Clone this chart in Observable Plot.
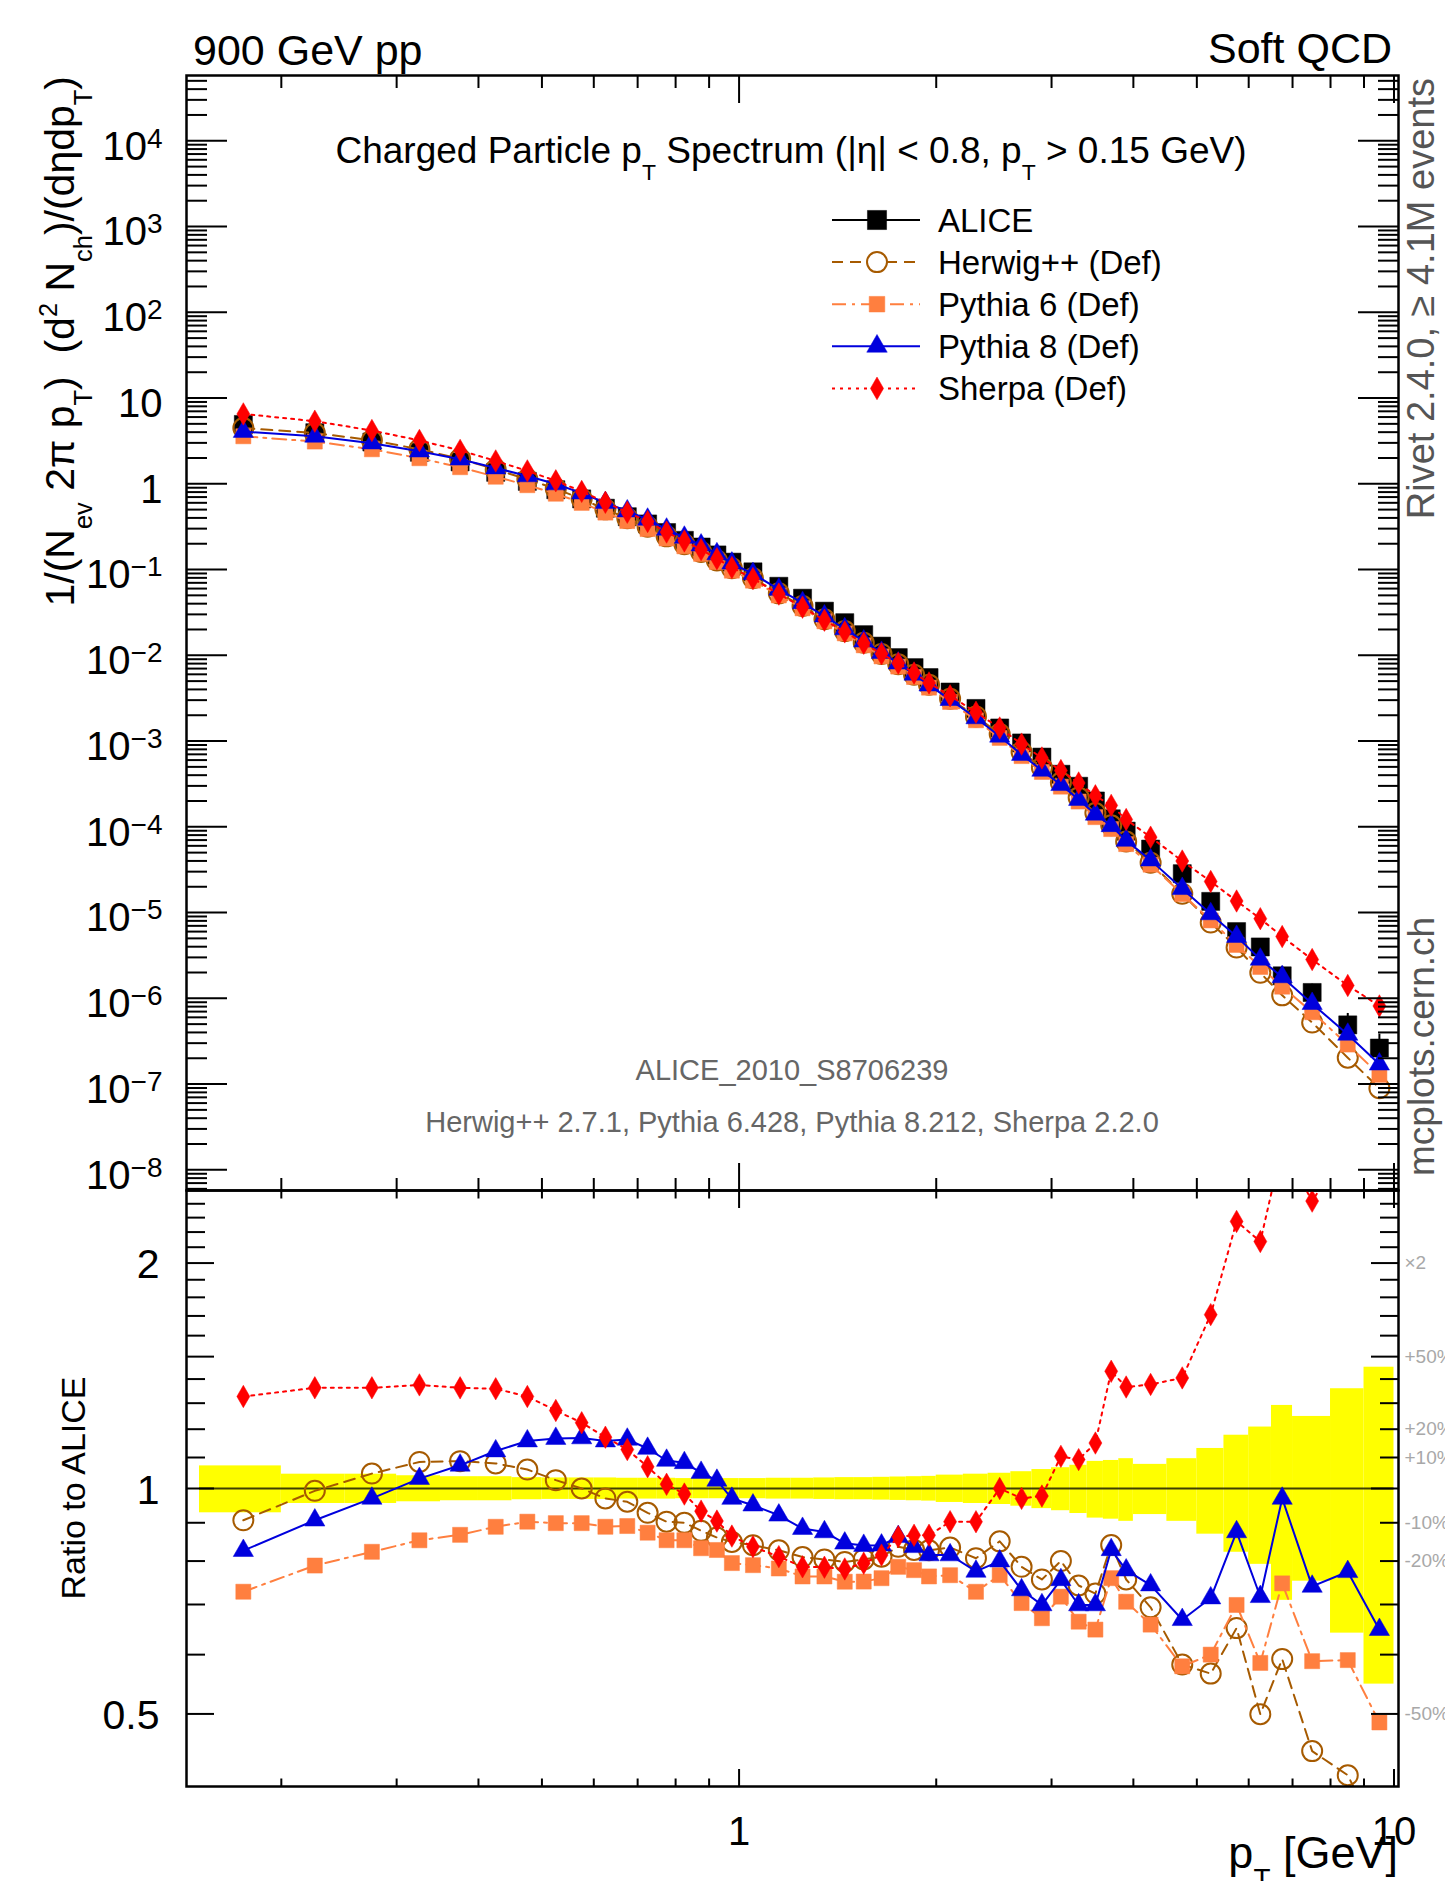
<!DOCTYPE html>
<html><head><meta charset="utf-8">
<script src="https://cdn.jsdelivr.net/npm/d3@7"></script>
<script src="https://cdn.jsdelivr.net/npm/@observablehq/plot@0.6"></script>
<style>
html,body{margin:0;padding:0;background:#fff;overflow:hidden;}
#wrap{position:relative;width:1445px;height:1881px;overflow:hidden;background:#fff;}
</style></head><body><div id="wrap"></div>
<script>
// ---------------- data ----------------
const pT = [0.175,0.225,0.275,0.325,0.375,0.425,0.475,0.525,0.575,0.625,0.675,0.725,0.775,0.825,0.875,0.925,0.975,1.05,1.15,1.25,1.35,1.45,1.55,1.65,1.75,1.85,1.95,2.1,2.3,2.5,2.7,2.9,3.1,3.3,3.5,3.7,3.9,4.25,4.75,5.25,5.75,6.25,6.75,7.5,8.5,9.5];
const binEdges = [0.15,0.2,0.25,0.3,0.35,0.4,0.45,0.5,0.55,0.6,0.65,0.7,0.75,0.8,0.85,0.9,0.95,1.0,1.1,1.2,1.3,1.4,1.5,1.6,1.7,1.8,1.9,2.0,2.2,2.4,2.6,2.8,3.0,3.2,3.4,3.6,3.8,4.0,4.5,5.0,5.5,6.0,6.5,7.0,8.0,9.0,10.0];
const alice = [4.92,3.94,3.07,2.33,1.80,1.36,1.066,0.852,0.666,0.519,0.413,0.340,0.270,0.219,0.183,0.148,0.122,0.094,0.0638,0.0463,0.0327,0.0240,0.0174,0.0128,0.0094,0.00718,0.0055,0.00373,0.0024,0.00142,0.00095,0.00065,0.00041,0.000297,0.0002,0.000124,8.9e-5,5.5e-5,2.84e-5,1.35e-5,6.0e-6,3.97e-6,1.83e-6,1.17e-6,4.9e-7,2.63e-7];
const aliceRelErr = [0.072,0.045,0.045,0.040,0.037,0.037,0.034,0.033,0.033,0.033,0.032,0.032,0.032,0.031,0.031,0.031,0.031,0.031,0.032,0.032,0.033,0.034,0.034,0.035,0.036,0.037,0.038,0.042,0.045,0.048,0.053,0.060,0.066,0.074,0.087,0.090,0.096,0.077,0.096,0.131,0.178,0.208,0.291,0.248,0.359,0.452];
const herwig = [4.462,3.912,3.214,2.528,1.958,1.469,1.130,0.8742,0.666,0.5034,0.3965,0.3155,0.2438,0.1971,0.1607,0.1273,0.1035,0.07896,0.05276,0.0375,0.02629,0.01915,0.01399,0.01038,0.007858,0.005945,0.004549,0.003111,0.001937,0.001207,0.0007467,0.0004914,0.000328,0.0002204,0.0001448,0.0001042,6.728e-5,3.817e-5,1.653e-5,7.641e-6,3.906e-6,1.983e-6,1.083e-6,5.218e-7,2.029e-7,8.94e-8];
const pythia6 = [3.582,3.109,2.527,1.987,1.561,1.209,0.9626,0.7659,0.5987,0.4614,0.368,0.2968,0.2303,0.1868,0.1523,0.1225,0.0970,0.07426,0.04989,0.03533,0.02495,0.01802,0.01307,0.009715,0.007388,0.005586,0.004197,0.002857,0.001747,0.001088,0.0006679,0.0004362,0.000294,0.0001972,0.0001296,9.412e-5,6.283e-5,3.619e-5,1.644e-5,8.1e-6,4.194e-6,2.322e-6,1.367e-6,6.88e-7,2.891e-7,1.281e-7];
const pythia8 = [4.064,3.574,2.978,2.402,1.933,1.526,1.2334,0.9934,0.7779,0.6005,0.4803,0.3845,0.2943,0.237,0.1922,0.1517,0.1183,0.0893,0.05876,0.04093,0.02861,0.02028,0.0146,0.01075,0.008103,0.006002,0.004483,0.00304,0.00186,0.001136,0.0006954,0.0004544,0.0003096,0.0002076,0.0001398,0.0001027,6.924e-5,4.087e-5,1.897e-5,9.639e-6,5.25e-6,2.846e-6,1.775e-6,8.658e-7,3.793e-7,1.704e-7];
const sherpa = [6.529,5.370,4.184,3.204,2.453,1.848,1.4146,1.0829,0.8152,0.6077,0.4655,0.3635,0.2735,0.2153,0.1707,0.1339,0.1054,0.07858,0.05174,0.03639,0.02567,0.01874,0.01383,0.01043,0.008103,0.006218,0.004763,0.003368,0.002167,0.00142,0.0009215,0.0006351,0.0004526,0.0003246,0.00023,0.0001778,0.0001216,7.574e-5,3.99e-5,2.304e-5,1.364e-5,8.484e-6,5.252e-6,2.831e-6,1.411e-6,8.153e-7];

const seriesNames = ["ALICE","Herwig++ (Def)","Pythia 6 (Def)","Pythia 8 (Def)","Sherpa (Def)"];

const xTickValues = [1, 10];
const xTickLabels = ["1", "10"];
const yTickValuesUpper = [1e4,1e3,1e2,1e1,1,1e-1,1e-2,1e-3,1e-4,1e-5,1e-6,1e-7,1e-8];
const yTickLabelsUpper = ["10^4","10^3","10^2","10","1","10^\u22121","10^\u22122","10^\u22123","10^\u22124","10^\u22125","10^\u22126","10^\u22127","10^\u22128"];
const yTickValuesRatio = [2, 1, 0.5];
const yTickLabelsRatio = ["2", "1", "0.5"];
const ratioRightValues = [2, 1.5, 1.2, 1.1, 0.9, 0.8, 0.5];
const ratioRightLabels = ["\u00d72", "+50%", "+20%", "+10%", "-10%", "-20%", "-50%"];

// ---------------- styles ----------------
const FONT = '"Liberation Sans", Arial, Helvetica, sans-serif';
const W = 1445;
const xDomain = [0.1433, 10.16];
const yDomainUpper = [5.74e-9, 5.77e4];
const yDomainRatio = [0.4, 2.5];
const MARGIN_L = 186, MARGIN_R = 47;
const UPPER_TOP = 75, SPLIT = 1190, RATIO_BOTTOM = 1786, H = 1881;

const styles = {
  alice:   {color: "#000000", symbol: "square",   r: 10.2, fill: "#000000", dash: null},
  herwig:  {color: "#a65a00", symbol: "circle",   r: 10,   fill: "none",    dash: "11,7"},
  pythia6: {color: "#ff7f3f", symbol: "square",   r: 8.5,  fill: "#ff7f3f", dash: "14,6,3,6"},
  pythia8: {color: "#0000dd", symbol: "triangle", r: 7.5,  fill: "#0000dd", dash: null},
  sherpa:  {color: "#ff0000", symbol: "diamond",  r: 6.8,  fill: "#ff0000", dash: "3,5"}
};
const modelKeys = ["herwig", "pythia6", "pythia8", "sherpa"];
const modelValues = {herwig, pythia6, pythia8, sherpa};

// ---------------- tables ----------------
const rows = pT.map((x, i) => ({x, lo: binEdges[i], hi: binEdges[i + 1], alice: alice[i], err: aliceRelErr[i]}));
const modelRows = {};
for (const k of modelKeys) {
  modelRows[k] = pT.map((x, i) => ({x, y: modelValues[k][i], ratio: modelValues[k][i] / alice[i]}));
}

// minor ticks
function logMinor(domain) {
  const out = [];
  for (let e = Math.floor(Math.log10(domain[0])); e <= Math.ceil(Math.log10(domain[1])); e++) {
    for (let m = 2; m <= 9; m++) {
      const v = m * Math.pow(10, e);
      if (v > domain[0] && v < domain[1]) out.push(v);
    }
  }
  return out;
}
const xMinor = logMinor(xDomain);
const yMinorUpper = logMinor(yDomainUpper);
const yMajorRatioTicks = [0.5, 1, 1.5, 2];
const yMinorRatioTicks = [0.6,0.7,0.8,0.9,1.1,1.2,1.3,1.4,1.6,1.7,1.8,1.9,2.1,2.2,2.3,2.4];

function yTicks(values, size) {
  return [
    Plot.axisY({ticks: values, anchor: "right", frameAnchor: "left", tickSize: size, fill: "none", strokeWidth: 2}),
    Plot.axisY({ticks: values, anchor: "left", frameAnchor: "right", tickSize: size, fill: "none", strokeWidth: 2})
  ];
}
function xTicks(values, sizeTop, sizeBottom) {
  return [
    Plot.axisX({ticks: values, anchor: "bottom", frameAnchor: "top", tickSize: sizeTop, fill: "none", strokeWidth: 2}),
    Plot.axisX({ticks: values, anchor: "top", frameAnchor: "bottom", tickSize: sizeBottom, fill: "none", strokeWidth: 2})
  ];
}
function seriesMarks(k, yField, clip) {
  const s = styles[k];
  return [
    Plot.line(modelRows[k], {x: "x", y: yField, stroke: s.color, strokeWidth: 2, strokeDasharray: s.dash, clip}),
    Plot.dot(modelRows[k], {x: "x", y: yField, symbol: s.symbol, r: s.r, fill: s.fill, stroke: s.color, strokeWidth: s.fill === "none" ? 2 : 0.5, clip})
  ];
}

const plotStyle = {background: "transparent", overflow: "visible", maxWidth: "none", fontFamily: FONT, color: "#000"};

// ---------------- upper panel ----------------
const upper = Plot.plot({
  width: W, height: SPLIT,
  marginTop: UPPER_TOP, marginBottom: 0, marginLeft: MARGIN_L, marginRight: MARGIN_R,
  x: {type: "log", domain: xDomain},
  y: {type: "log", domain: yDomainUpper},
  style: plotStyle,
  marks: [
    Plot.ruleX(rows, {x: "x", y1: d => d.alice * (1 - d.err), y2: d => d.alice * (1 + d.err), stroke: "#000", strokeWidth: 2}),
    Plot.dot(rows, {x: "x", y: "alice", symbol: styles.alice.symbol, r: styles.alice.r, fill: "#000", stroke: "#000", strokeWidth: 0.5}),
    ...modelKeys.flatMap(k => seriesMarks(k, "y", false)),
    ...yTicks(yTickValuesUpper, 40),
    ...yTicks(yMinorUpper, 20),
    ...xTicks(xTickValues, 28, 28),
    ...xTicks(xMinor, 13, 13),
    Plot.axisY({ticks: yTickValuesUpper, anchor: "left", tickSize: 0, tickPadding: 24, fontSize: 40, dy: 6, label: null,
      tickFormat: d => yTickLabelsUpper[yTickValuesUpper.indexOf(d)]}),
    Plot.frame({stroke: "#000", strokeWidth: 2.5})
  ]
});
upper.style.position = "absolute"; upper.style.left = "0px"; upper.style.top = "0px";

// superscripts in the tick labels
d3.select(upper).selectAll('g[aria-label="y-axis tick label"] text').each(function() {
  const s = this.textContent;
  const k = s.indexOf("^");
  if (k < 0) return;
  this.textContent = s.slice(0, k);
  d3.select(this).append("tspan").attr("dy", -12).attr("font-size", 28).text(s.slice(k + 1));
});

// ---------------- ratio panel ----------------
const ratio = Plot.plot({
  width: W, height: H - SPLIT,
  marginTop: 0, marginBottom: H - RATIO_BOTTOM, marginLeft: MARGIN_L, marginRight: MARGIN_R,
  x: {type: "log", domain: xDomain},
  y: {type: "log", domain: yDomainRatio},
  style: plotStyle,
  marks: [
    Plot.rect(rows, {x1: "lo", x2: "hi", y1: d => 1 - d.err, y2: d => 1 + d.err, fill: "#ffff00"}),
    Plot.ruleY([1], {x1: binEdges[0], x2: binEdges[binEdges.length - 1], stroke: "#000", strokeWidth: 2, strokeOpacity: 0.75}),
    ...modelKeys.flatMap(k => seriesMarks(k, "ratio", true)),
    ...yTicks(yMajorRatioTicks, 27),
    ...yTicks(yMinorRatioTicks, 18),
    ...xTicks(xTickValues, 18, 18),
    ...xTicks(xMinor, 8.5, 8.5),
    Plot.axisY({ticks: yTickValuesRatio, anchor: "left", tickSize: 0, tickPadding: 27, fontSize: 41, dy: 2, label: null,
      tickFormat: d => yTickLabelsRatio[yTickValuesRatio.indexOf(d)]}),
    Plot.axisY({ticks: ratioRightValues, anchor: "right", tickSize: 0, tickPadding: 6, fontSize: 19, fill: "#a8a8a8", label: null,
      tickFormat: d => ratioRightLabels[ratioRightValues.indexOf(d)]}),
    Plot.axisX({ticks: xTickValues, anchor: "bottom", tickSize: 0, tickPadding: 30, fontSize: 40, label: null,
      tickFormat: d => xTickLabels[xTickValues.indexOf(d)]}),
    Plot.frame({stroke: "#000", strokeWidth: 2.5})
  ]
});
ratio.style.position = "absolute"; ratio.style.left = "0px"; ratio.style.top = SPLIT + "px";

const wrap = document.getElementById("wrap");
wrap.append(upper);
wrap.append(ratio);

// ---------------- annotations, titles, legend ----------------
const ov = d3.select(wrap).append("svg")
  .attr("width", W).attr("height", H)
  .style("position", "absolute").style("left", "0px").style("top", "0px")
  .style("pointer-events", "none").style("font-family", FONT);

function rich(parts, {x, y, size, anchor = "start", fill = "#000", rotate = 0, sub = 0.45, sup = 0.42, small = 0.62}) {
  const t = ov.append("text")
    .attr("transform", `translate(${x},${y}) rotate(${rotate})`)
    .attr("font-size", size).attr("text-anchor", anchor).attr("fill", fill)
    .attr("style", "white-space:pre");
  let cur = 0;
  for (const [str, kind] of parts) {
    const off = kind === "sub" ? sub * size : kind === "sup" ? -sup * size : 0;
    const ts = t.append("tspan").attr("dy", off - cur).text(str);
    if (kind !== "n") ts.attr("font-size", size * small);
    cur = off;
  }
  return t;
}

rich([["900 GeV pp", "n"]], {x: 193, y: 65, size: 43});
rich([["Soft QCD", "n"]], {x: 1392, y: 63, size: 43, anchor: "end"});
rich([["Charged Particle p", "n"], ["T", "sub"], [" Spectrum (|\u03b7| < 0.8, p", "n"], ["T", "sub"], [" > 0.15 GeV)", "n"]],
  {x: 791, y: 163, size: 37, anchor: "middle"});
rich([["1/(N", "n"], ["ev", "sub"], [" 2\u03c0 p", "n"], ["T", "sub"], [")  (d", "n"], ["2", "sup"], [" N", "n"], ["ch", "sub"], [")/(d\u03b7dp", "n"], ["T", "sub"], [")", "n"]],
  {x: 74, y: 76, size: 41, anchor: "end", rotate: -90});
rich([["Ratio to ALICE", "n"]], {x: 85, y: 1488, size: 34, anchor: "middle", rotate: -90});
rich([["Rivet 2.4.0, \u2265 4.1M events", "n"]], {x: 1434, y: 78, size: 38, anchor: "end", rotate: -90, fill: "#555"});
rich([["mcplots.cern.ch", "n"]], {x: 1434, y: 1176, size: 37, anchor: "start", rotate: -90, fill: "#555"});
rich([["ALICE_2010_S8706239", "n"]], {x: 792, y: 1080, size: 29, anchor: "middle", fill: "#666"});
rich([["Herwig++ 2.7.1, Pythia 6.428, Pythia 8.212, Sherpa 2.2.0", "n"]], {x: 792, y: 1132, size: 29, anchor: "middle", fill: "#666"});
rich([["p", "n"], ["T", "sub"], [" [GeV]", "n"]], {x: 1398, y: 1868, size: 45, anchor: "end"});

// legend
const symbolMap = {square: d3.symbolSquare, circle: d3.symbolCircle, triangle: d3.symbolTriangle, diamond: d3.symbolDiamond};
const legendKeys = ["alice", ...modelKeys];
const legendSizes = {alice: 10.8, herwig: 10, pythia6: 8.8, pythia8: 7.6, sherpa: 6.9};
legendKeys.forEach((k, i) => {
  const s = styles[k];
  const cy = 220 + 42.1 * i;
  ov.append("line").attr("x1", 832).attr("x2", 920).attr("y1", cy).attr("y2", cy)
    .attr("stroke", s.color).attr("stroke-width", 2).attr("stroke-dasharray", s.dash);
  const r = legendSizes[k];
  ov.append("path").attr("transform", `translate(877,${cy})`)
    .attr("d", d3.symbol().type(symbolMap[s.symbol]).size(Math.PI * r * r)())
    .attr("fill", s.fill === "none" ? "#fff" : s.fill).attr("stroke", s.color).attr("stroke-width", s.fill === "none" ? 2 : 0.5);
  rich([[seriesNames[i], "n"]], {x: 938, y: cy + 11.5, size: 33});
});
</script>
</body></html>
